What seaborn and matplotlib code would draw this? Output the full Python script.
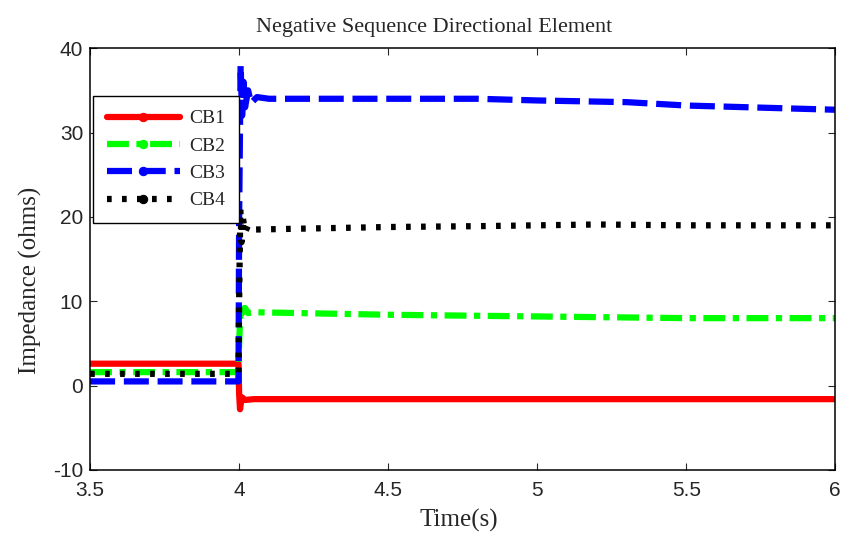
import numpy as np
import pandas as pd
import matplotlib
matplotlib.use("Agg")
import matplotlib.pyplot as plt
import seaborn as sns

# values
t_cb1 = [3.5, 3.998, 4.0, 4.003, 4.006, 4.01, 4.02, 4.05, 4.5, 5.0, 5.5, 6.0]
z_cb1 = [2.6, 2.6, -1.0, -2.8, -2.0, -1.4, -1.7, -1.6, -1.6, -1.6, -1.6, -1.6]

t_cb2 = [3.5, 3.998, 4.0, 4.005, 4.01, 4.02, 4.03, 4.05, 4.5, 5.0, 5.5, 6.0]
z_cb2 = [1.6, 1.6, 5.0, 9.5, 8.6, 9.2, 8.6, 8.7, 8.4, 8.2, 8.0, 8.0]

t_cb3 = [3.5, 3.998, 4.0, 4.005, 4.01, 4.015, 4.02, 4.03, 4.04, 4.06, 4.1, 4.5, 4.8, 5.0, 5.3, 5.5, 5.8, 6.0]
z_cb3 = [0.5, 0.5, 20.0, 38.0, 32.0, 36.0, 33.0, 35.0, 33.5, 34.2, 34.0, 34.0, 34.0, 33.8, 33.6, 33.2, 32.9, 32.7]

t_cb4 = [3.5, 3.998, 4.0, 4.004, 4.008, 4.012, 4.02, 4.03, 4.05, 4.5, 4.8, 5.2, 5.5, 6.0]
z_cb4 = [1.4, 1.4, 10.0, 21.0, 17.0, 20.0, 18.2, 19.0, 18.5, 18.8, 18.9, 19.1, 19.0, 19.0]

names = ["CB1", "CB2", "CB3", "CB4"]
colors = ["#ff0000", "#00ff00", "#0000ff", "#000000"]

sns.set_style("ticks")
plt.rcParams["font.family"] = ["Liberation Sans", "DejaVu Sans"]
plt.rcParams["axes.unicode_minus"] = False

fig = plt.figure(figsize=(8.42, 5.35), dpi=100)
ax = fig.add_axes([0.107, 0.1215, 0.885, 0.7885])

series = [(t_cb1, z_cb1), (t_cb2, z_cb2), (t_cb3, z_cb3), (t_cb4, z_cb4)]
# dash patterns in units of line width
dash_styles = [None, (3.5, 1.2, 1.0, 1.2), (4.0, 1.4), (0.75, 1.65)]

for (t, z), name, col, dash in zip(series, names, colors, dash_styles):
    df = pd.DataFrame({"Time": t, "Z": z})
    sns.lineplot(data=df, x="Time", y="Z", ax=ax, color=col, linewidth=4.5,
                 label=name, estimator=None, sort=False)
    if dash is not None:
        ax.lines[-1].set_dashes(dash)

ax.set_xlim(3.5, 6)
ax.set_ylim(-10, 40)
ax.set_xticks([3.5, 4, 4.5, 5, 5.5, 6])
ax.set_xticklabels(["3.5", "4", "4.5", "5", "5.5", "6"])
ax.set_yticks([-10, 0, 10, 20, 30, 40])
ax.tick_params(direction="in", top=True, right=True, labelsize=15, length=5)
ax.tick_params(axis="x", pad=8)
ax.tick_params(axis="y", pad=5)
for sp in ax.spines.values():
    sp.set_visible(True)
    sp.set_linewidth(1.1)
    sp.set_color("black")

serif = ["Liberation Serif", "DejaVu Serif"]
ax.set_title("Negative Sequence Directional Element", fontsize=16, family=serif,
             x=0.462, y=1.038, pad=0)
ax.set_xlabel("Time(s)", fontsize=18, family=serif)
ax.xaxis.set_label_coords(0.495, -0.093)
ax.set_ylabel("Impedance (ohms)", fontsize=18, family=serif)
ax.yaxis.set_label_coords(-0.064, 0.45)

leg = ax.legend(loc="upper left", bbox_to_anchor=(0.004, 0.886), frameon=True,
                fancybox=False, edgecolor="black", framealpha=1,
                prop={"family": serif, "size": 14}, handlelength=3.75,
                handletextpad=0.5, borderpad=0.7, labelspacing=0.5,
                borderaxespad=0)
leg.get_frame().set_linewidth(1.0)
for h, col in zip(leg.get_lines(), colors):
    h.set_marker("o")
    h.set_markersize(6)
    h.set_markerfacecolor(col)
    h.set_markeredgecolor(col)

fig.savefig("out.png", dpi=100)
